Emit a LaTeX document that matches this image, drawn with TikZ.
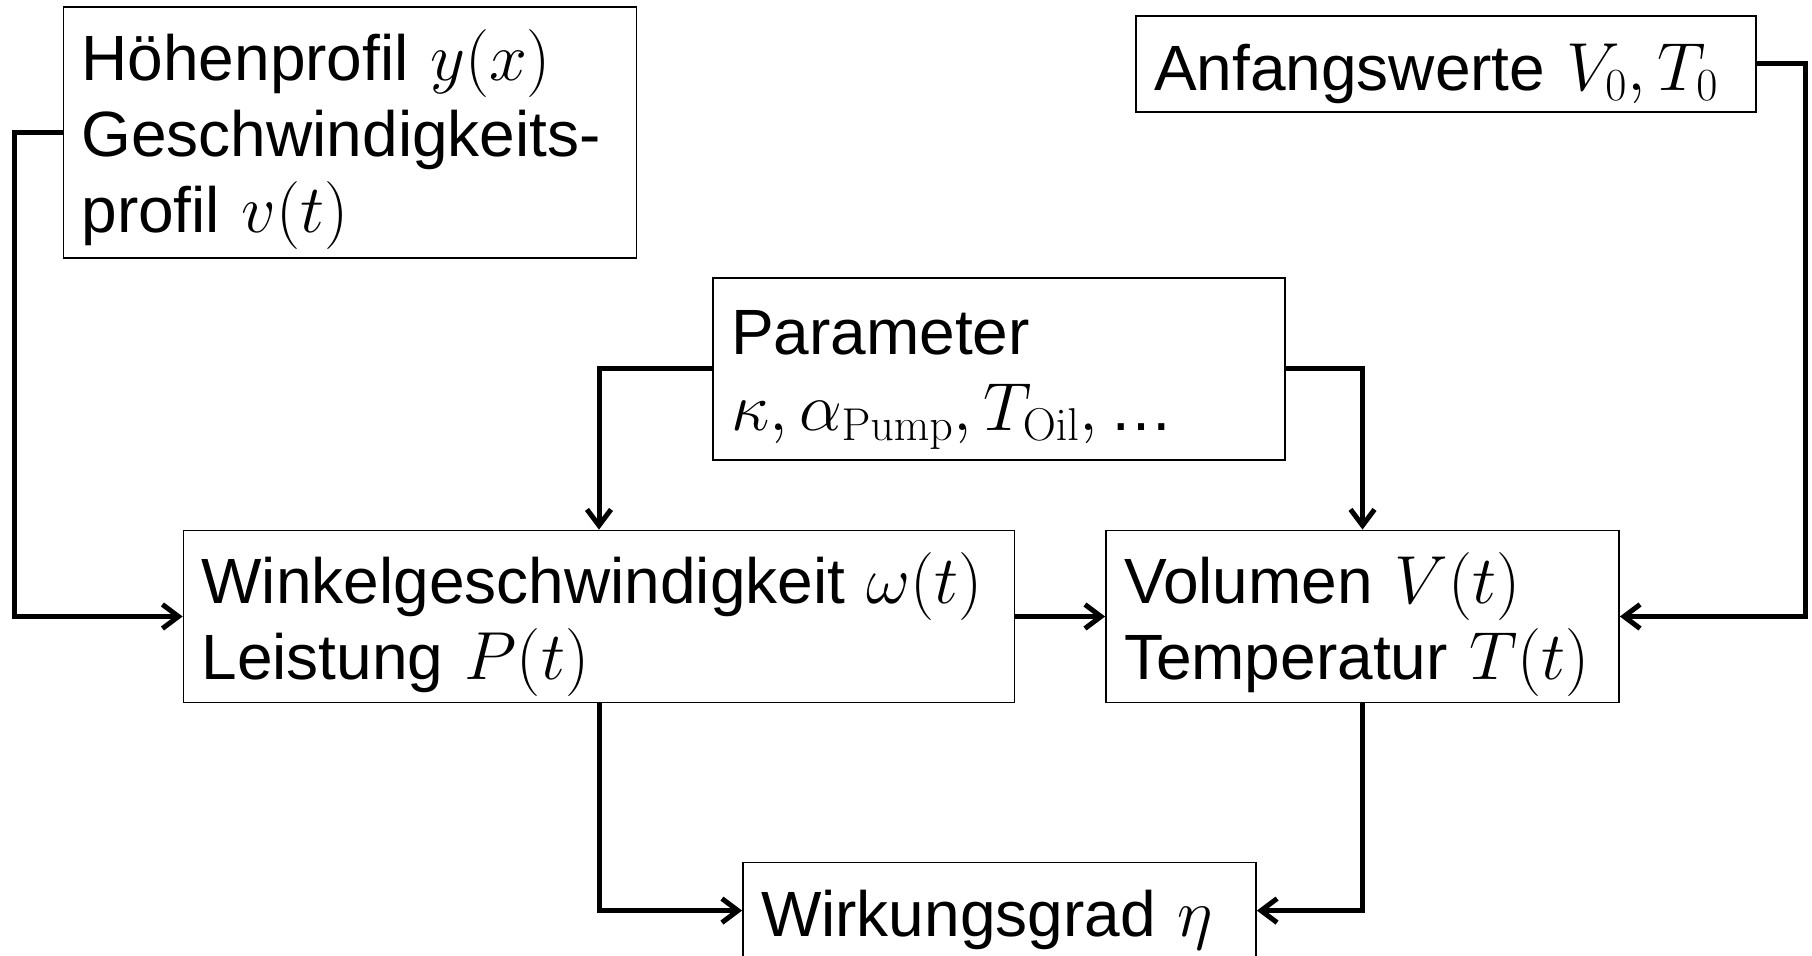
\documentclass[tikz,border=0pt]{standalone}
\usepackage{fix-cm}
\usepackage[no-math]{fontspec}
\setmainfont{Liberation Sans}
\DeclareMathSizes{32}{34}{23}{17}
\usetikzlibrary{arrows.meta}
\begin{document}
\begin{tikzpicture}[x=0.5pt,y=-0.5pt,
  box/.style={draw,line width=0.9pt,inner xsep=9pt,inner ysep=0pt,align=left,
    font=\fontsize{32}{38}\selectfont,anchor=center,
    execute at begin node={\lineskiplimit=-30pt\relax\rule{0pt}{33pt}}},
  conn/.style={line width=2.5pt,-{Straight Barb[length=8pt,width=12pt]}}]
\useasboundingbox (0,0) rectangle (1812,956);
\node[box,text width=268.5pt,minimum height=125.4pt] (h) at (350,132.3)
  {Höhenprofil $y(x)$\\Geschwindigkeits-\\profil $v(t)$};
\node[box,text width=292pt,minimum height=48pt] (a) at (1446,64)
  {Anfangswerte $V_0,T_0$};
\node[box,text width=268pt,minimum height=90.75pt] (p) at (999,369)
  {Parameter\\$\kappa,\alpha_{\mathrm{Pump}},T_{\mathrm{Oil}},$\,…};
\node[box,text width=397.5pt,minimum height=86pt] (w) at (599,616.5)
  {Winkelgeschwindigkeit $\omega(t)$\\Leistung $P(t)$};
\node[box,text width=238.5pt,minimum height=86pt] (v) at (1362.5,616.5)
  {Volumen $V(t)$\\Temperatur $T(t)$};
\node[box,text width=238.5pt,minimum height=48pt] (e) at (999.5,910.6)
  {Wirkungsgrad $\eta$};
\coordinate (lx) at (14,0);
\coordinate (rx) at (1805,0);
\draw[conn] (h.west) -- (h.west -| lx) |- (w.west);
\draw[conn] (p.west) -| (w.north);
\draw[conn] (p.east) -| (v.north);
\draw[conn] (w.east) -- (v.west);
\draw[conn] (a.east) -- (a.east -| rx) |- (v.east);
\draw[conn] (w.south) |- (e.west);
\draw[conn] (v.south) |- (e.east);
\end{tikzpicture}
\end{document}
